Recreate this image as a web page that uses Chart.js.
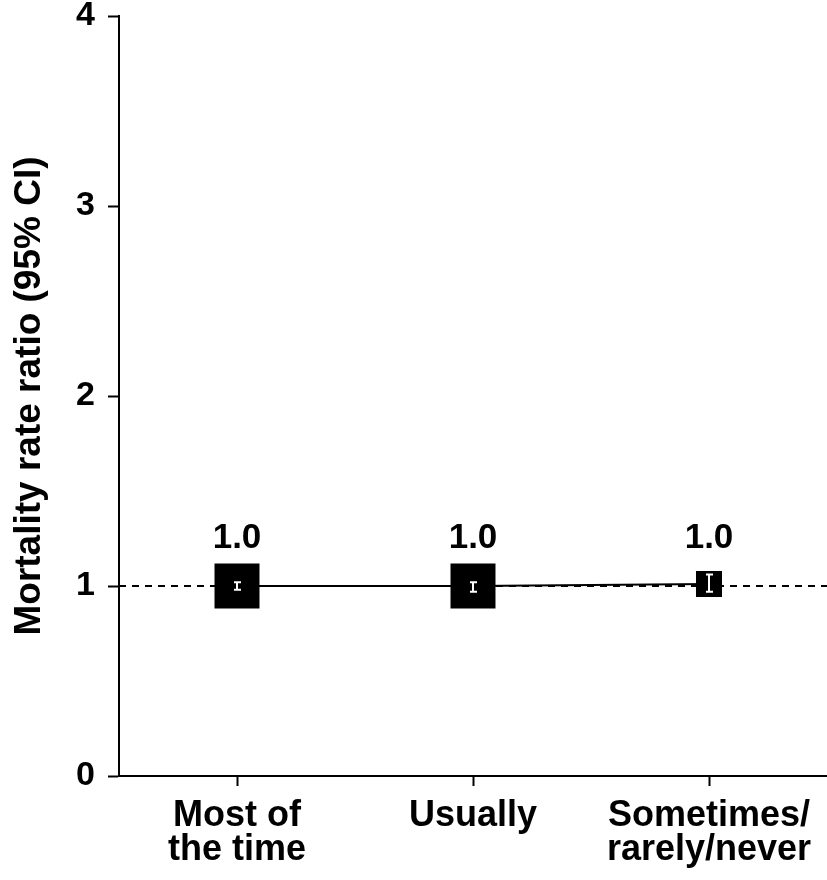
<!DOCTYPE html>
<html>
<head>
<meta charset="utf-8">
<script src="https://cdn.jsdelivr.net/npm/chart.js@4.4.1/dist/chart.umd.min.js"></script>
<style>
    html, body { margin: 0; padding: 0; background: #fff; }
    #wrap { width: 827px; height: 880px; }
</style>
</head>
<body>
<div id="wrap"><canvas id="mrrChart" width="827" height="880"></canvas></div>
<script>
    // data
    var categories = [["Most of", "the time"], ["Usually"], ["Sometimes/", "rarely/never"]];
    var rateRatios = [1.0, 1.0, 1.01];
    var ciLower = [0.98, 0.97, 0.97];
    var ciUpper = [1.02, 1.02, 1.06];
    var yTicks = [0, 1, 2, 3, 4];

    var fontFamily = "'Liberation Sans', Arial, Helvetica, sans-serif";

    // dashed reference line at 1
    var refLinePlugin = {
        id: "refLine",
        beforeDatasetsDraw: function (chart) {
            var ctx = chart.ctx;
            var area = chart.chartArea;
            var y = chart.scales.y.getPixelForValue(1);
            ctx.save();
            ctx.strokeStyle = "#000";
            ctx.lineWidth = 2;
            ctx.setLineDash([7, 6]);
            ctx.beginPath();
            ctx.moveTo(area.left, y);
            ctx.lineTo(area.right, y);
            ctx.stroke();
            ctx.restore();
        }
    };

    // white CI whiskers inside the squares + value labels above
    var ciPlugin = {
        id: "ciBars",
        afterDatasetsDraw: function (chart) {
            var ctx = chart.ctx;
            var xs = chart.scales.x;
            var ys = chart.scales.y;
            ctx.save();
            ctx.strokeStyle = "#fff";
            ctx.lineWidth = 2;
            for (var i = 0; i < rateRatios.length; i++) {
                var x = xs.getPixelForValue(i);
                var lo = ys.getPixelForValue(ciLower[i]);
                var hi = ys.getPixelForValue(ciUpper[i]);
                ctx.beginPath();
                ctx.moveTo(x, lo);
                ctx.lineTo(x, hi);
                ctx.moveTo(x - 3, lo);
                ctx.lineTo(x + 4, lo);
                ctx.moveTo(x - 3, hi);
                ctx.lineTo(x + 4, hi);
                ctx.stroke();
            }
            ctx.fillStyle = "#000";
            ctx.font = "bold 35px " + fontFamily;
            ctx.textAlign = "center";
            ctx.textBaseline = "alphabetic";
            for (i = 0; i < rateRatios.length; i++) {
                ctx.fillText(rateRatios[i].toFixed(1), xs.getPixelForValue(i), ys.getPixelForValue(1.2));
            }
            ctx.restore();
        }
    };

    var ctx = document.getElementById("mrrChart");

    var mrrChart = new Chart(ctx, {
        type: "line",
        data: {
            labels: categories,
            datasets: [{
                data: rateRatios,
                borderColor: "#000",
                borderWidth: 2,
                backgroundColor: "#000",
                pointStyle: "rect",
                pointRadius: [31.8, 31.8, 18.4],
                pointBackgroundColor: "#000",
                pointBorderWidth: 0,
                tension: 0
            }]
        },
        options: {
            responsive: false,
            animation: false,
            devicePixelRatio: 1,
            layout: {
                autoPadding: false,
                padding: { top: 16, right: 0, left: 0, bottom: 0 }
            },
            plugins: {
                legend: { display: false },
                tooltip: { enabled: false }
            },
            scales: {
                x: {
                    type: "category",
                    offset: true,
                    afterFit: function (scale) {
                        scale.height = 104;
                        scale.paddingLeft = 0;
                        scale.paddingRight = 0;
                    },
                    grid: {
                        drawOnChartArea: false,
                        offset: false,
                        tickLength: 10,
                        tickWidth: 2,
                        color: "#000"
                    },
                    border: { color: "#000", width: 2 },
                    ticks: {
                        color: "#000",
                        padding: 14,
                        maxRotation: 0,
                        font: { family: fontFamily, size: 36, weight: "bold", lineHeight: 0.92 }
                    }
                },
                y: {
                    min: 0,
                    max: 4,
                    afterFit: function (scale) {
                        scale.width = 119;
                        scale.paddingTop = 0;
                        scale.paddingBottom = 0;
                    },
                    afterBuildTicks: function (scale) {
                        scale.ticks = yTicks.map(function (v) { return { value: v }; });
                    },
                    grid: {
                        drawOnChartArea: false,
                        tickLength: 11,
                        tickWidth: 2,
                        color: "#000"
                    },
                    border: { color: "#000", width: 2 },
                    ticks: {
                        color: "#000",
                        padding: 13,
                        font: { family: fontFamily, size: 34, weight: "bold", lineHeight: 0.9 }
                    },
                    title: {
                        display: true,
                        text: "Mortality rate ratio (95% CI)",
                        color: "#000",
                        padding: { top: 8, bottom: 0 },
                        font: { family: fontFamily, size: 37, weight: "bold", lineHeight: 1.2 }
                    }
                }
            }
        },
        plugins: [refLinePlugin, ciPlugin]
    });
</script>
</body>
</html>
